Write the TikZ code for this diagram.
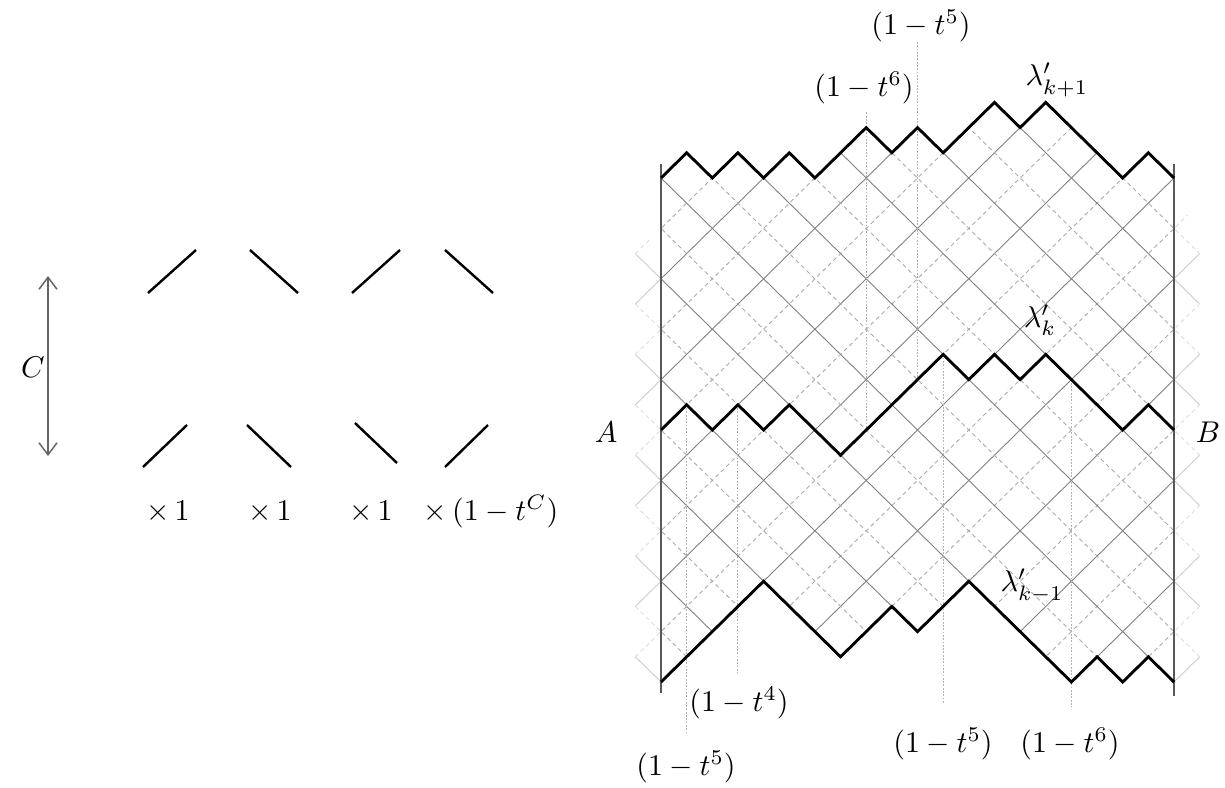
\documentclass[tikz,border=0pt]{standalone}
\usetikzlibrary{arrows.meta}
\newcommand\drawlattice[1]{%
  \foreach \c in {-24,-22,...,20}{%
    \pgfmathtruncatemacro\mm{mod(\c+48,4)}%
    \ifnum\mm=0
      \draw[latsolid,#1] (-1,-1-\c) -- (21,21-\c);
    \else
      \draw[latdash,#1] (-1,-1-\c) -- (21,21-\c);
    \fi}%
  \foreach \c in {0,2,...,44}{%
    \pgfmathtruncatemacro\mm{mod(\c,4)}%
    \ifnum\mm=0
      \draw[latsolid,#1] (-1,\c+1) -- (21,\c-21);
    \else
      \draw[latdash,#1] (-1,\c+1) -- (21,\c-21);
    \fi}%
}
\begin{document}
\begin{tikzpicture}[x=0.33333pt,y=-0.33333pt,
  pathline/.style={line width=0.95pt, line join=miter},
  latsolid/.style={black!50, line width=0.3pt},
  latdash/.style={black!33, line width=0.3pt, dash pattern=on 1.4pt off 1.1pt},
  faint/.style={opacity=0.4},
  guide/.style={black!30, line width=0.35pt, dash pattern=on 0.6pt off 0.5pt},
  border/.style={black!65, line width=0.6pt},
  seg/.style={line width=0.8pt},
  lbl/.style={inner sep=0pt}]
\useasboundingbox (0,0) rectangle (1225,788);

% ---------------- left diagram ----------------
\draw[seg] (148,293) -- (196,250);
\draw[seg] (250,250) -- (298,293);
\draw[seg] (352,293) -- (400,250);
\draw[seg] (445,250) -- (493,293);
\draw[seg] (143,467) -- (187,425);
\draw[seg] (247,425) -- (291,467);
\draw[seg] (355,423) -- (397,463);
\draw[seg] (445,467) -- (488,425);
\coordinate (ctop) at (48,276);
\coordinate (cbot) at (48,456);
\draw[black!60, line width=0.5pt, {Straight Barb[length=4pt,width=6pt]}-{Straight Barb[length=4pt,width=6pt]}] (ctop) -- (cbot);
\node[lbl] (Clab) at (33,367) {$C$};
\node[lbl] (w1) at (168,512) {$\times\,1$};
\node[lbl] (w2) at (270,512) {$\times\,1$};
\node[lbl] (w3) at (371,512) {$\times\,1$};
\node[lbl] (w4) at (491,512) {$\times\,(1-t^C)$};

% ---------------- lattice ----------------
\begin{scope}[shift={(661,682)}, x=8.55pt, y=8.4pt]
  \begin{scope}
    \clip (0,0) -- (4,4) -- (7,1) -- (9,3) -- (10,2) -- (12,4) -- (16,0) -- (17,1) -- (18,0) -- (19,1) -- (20,0)
      -- (20,20) -- (19,21) -- (18,20) -- (15,23) -- (14,22) -- (13,23) -- (11,21) -- (10,22) -- (9,21) -- (8,22)
      -- (6,20) -- (5,21) -- (4,20) -- (3,21) -- (2,20) -- (1,21) -- (0,20) -- cycle;
    \drawlattice{}
  \end{scope}
  \begin{scope}
    \clip (-1,0) rectangle (0,17.5);
    \drawlattice{faint}
  \end{scope}
  \begin{scope}
    \clip (20,0) rectangle (21,18.5);
    \drawlattice{faint}
  \end{scope}

  \coordinate (m1) at (1,11);
  \coordinate (m3) at (3,11);
  \coordinate (m8) at (8,10);
  \coordinate (m10) at (10,12);
  \coordinate (m11) at (11,13);
  \coordinate (m16) at (16,12);
  \coordinate (e1) at (1,-2.0);
  \coordinate (e3) at (3,0.35);
  \coordinate (e8) at (8,22.6);
  \coordinate (e10) at (10,25.4);
  \coordinate (e11) at (11,-0.85);
  \coordinate (e16) at (16,-1.0);
  \draw[guide] (m1) -- (e1);
  \draw[guide] (m3) -- (e3);
  \draw[guide] (e8) -- (m8);
  \draw[guide] (e10) -- (m10);
  \draw[guide] (m11) -- (e11);
  \draw[guide] (m16) -- (e16);

  \draw[border] (0,-0.45) -- (0,20.55);
  \draw[border] (20,-0.55) -- (20,20.55);

  \draw[pathline] (0,0) -- (4,4) -- (7,1) -- (9,3) -- (10,2) -- (12,4) -- (16,0) -- (17,1) -- (18,0) -- (19,1) -- (20,0);
  \draw[pathline] (0,10) -- (1,11) -- (2,10) -- (3,11) -- (4,10) -- (5,11) -- (7,9) -- (11,13) -- (12,12) -- (13,13)
      -- (14,12) -- (15,13) -- (18,10) -- (19,11) -- (20,10);
  \draw[pathline] (0,20) -- (1,21) -- (2,20) -- (3,21) -- (4,20) -- (5,21) -- (6,20) -- (8,22) -- (9,21) -- (10,22)
      -- (11,21) -- (13,23) -- (14,22) -- (15,23) -- (18,20) -- (19,21) -- (20,20);
\end{scope}

% ---------------- labels ----------------
\node[lbl] (lt5) at (921,26) {$(1-t^5)$};
\node[lbl] (lt6) at (864,88) {$(1-t^6)$};
\node[lbl] (lk1) at (1057,80) {$\lambda'_{k+1}$};
\node[lbl] (lk) at (1040,320) {$\lambda'_k$};
\node[lbl] (lkm) at (1032,586) {$\lambda'_{k-1}$};
\node[lbl] (bt4) at (739,703) {$(1-t^4)$};
\node[lbl] (bt5a) at (686,767) {$(1-t^5)$};
\node[lbl] (bt5b) at (943,744) {$(1-t^5)$};
\node[lbl] (bt6) at (1070,744) {$(1-t^6)$};
\node[lbl] (Alab) at (606,432) {$A$};
\node[lbl] (Blab) at (1208,432) {$B$};
\end{tikzpicture}
\end{document}
